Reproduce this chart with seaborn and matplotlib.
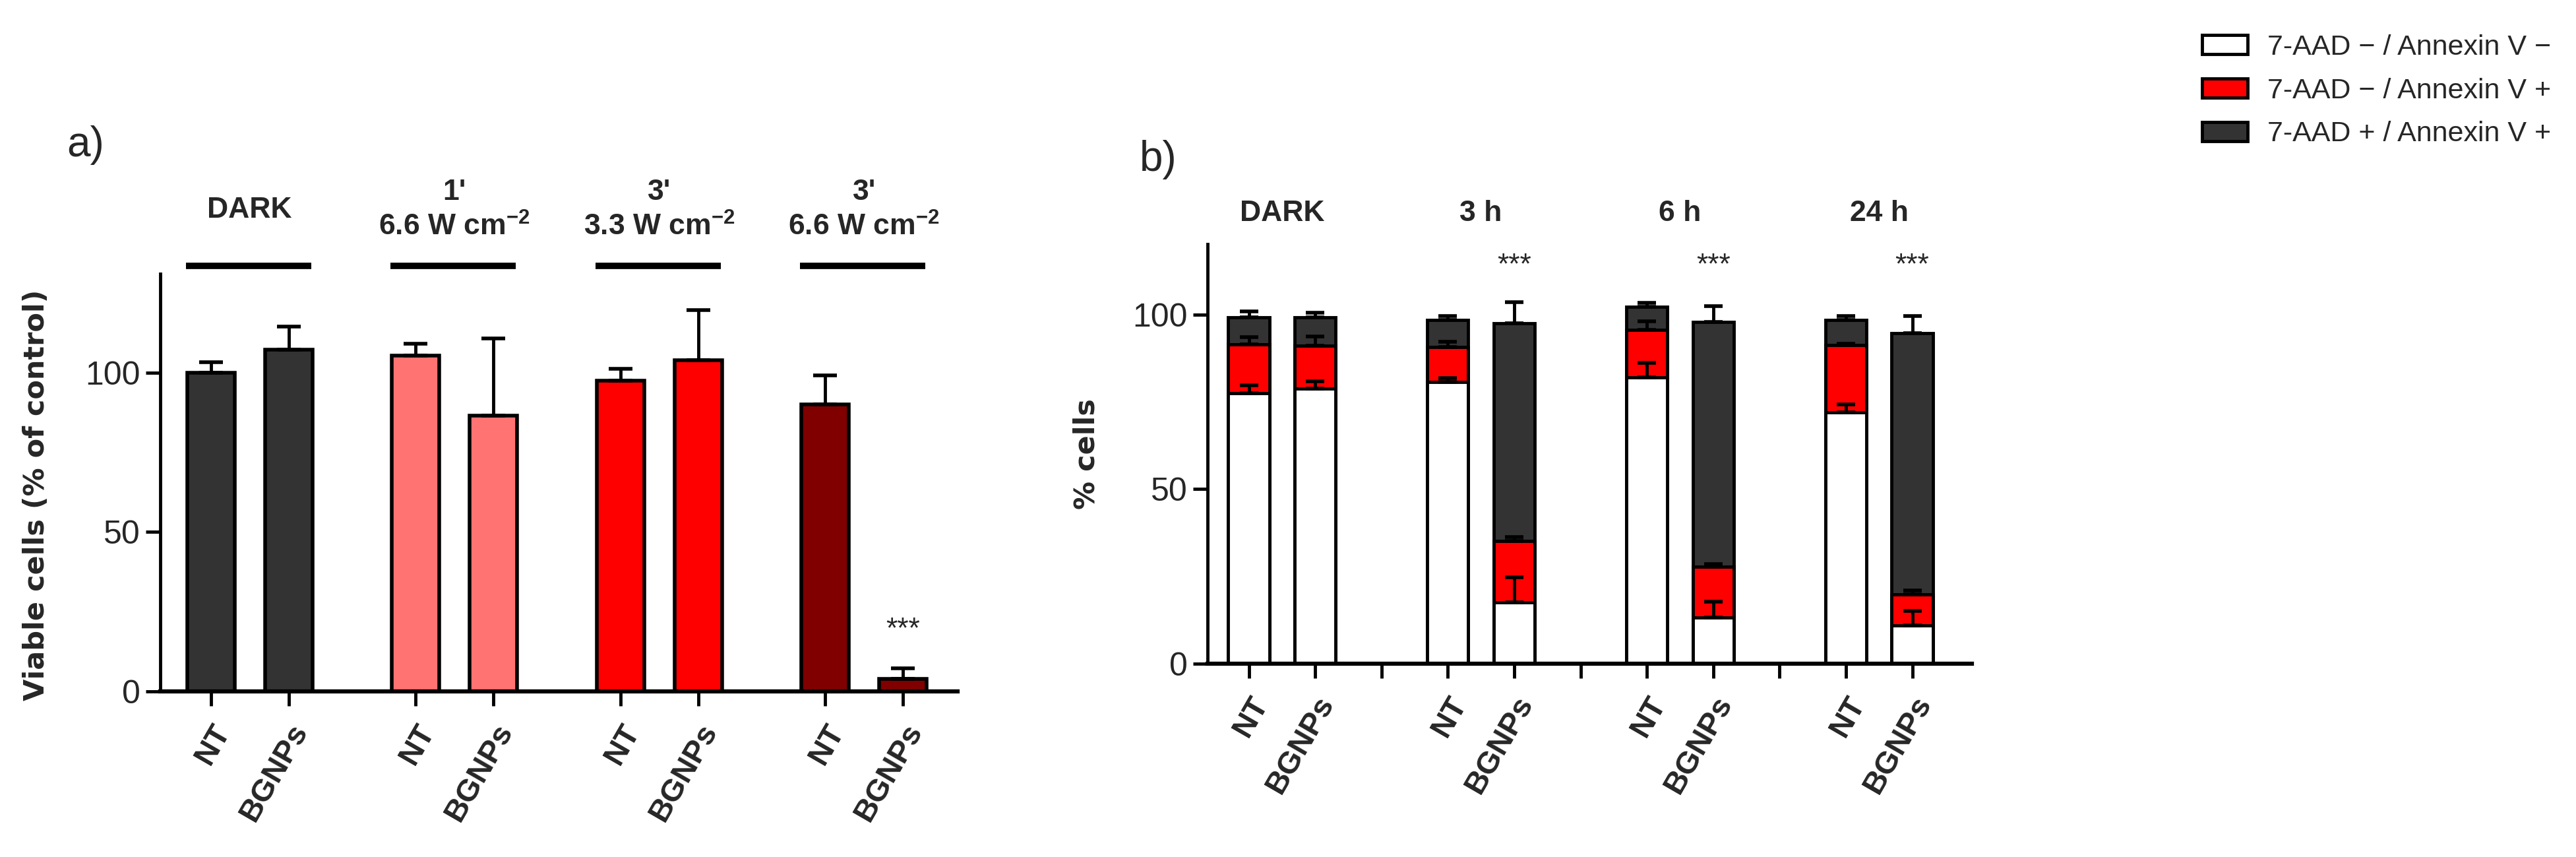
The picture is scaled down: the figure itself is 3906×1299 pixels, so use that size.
import numpy as np
import pandas as pd
import matplotlib
matplotlib.use("Agg")
import matplotlib.pyplot as plt
from matplotlib.patches import Patch
import seaborn as sns

# ---- panel a: viability (% of control) ----
a_groups = ["DARK", "1'\n6.6 W cm$^{-2}$", "3'\n3.3 W cm$^{-2}$", "3'\n6.6 W cm$^{-2}$"]
a_treat = ["NT", "BGNPs"]
a_mean = [100.0, 107.2, 105.3, 86.6, 97.4, 103.8, 90.1, 3.9]
a_sd = [3.2, 7.2, 3.8, 24.1, 3.8, 15.8, 9.1, 3.4]
a_colors = ["#333333", "#ff7373", "#ff0000", "#800000"]
a_sig = ["", "", "", "", "", "", "", "***"]

# ---- panel b: flow cytometry populations (% cells) ----
b_groups = ["DARK", "3 h", "6 h", "24 h"]
b_treat = ["NT", "BGNPs"]
b_live = [77.5, 78.8, 80.7, 17.5, 82.0, 13.2, 72.0, 10.9]
b_early = [13.9, 12.3, 10.1, 17.6, 13.6, 14.5, 19.2, 8.9]
b_late = [7.9, 8.2, 7.6, 62.4, 6.7, 70.1, 7.2, 74.8]
b_live_sd = [2.2, 2.0, 1.1, 7.3, 4.1, 4.5, 2.2, 4.2]
b_early_sd = [2.1, 2.6, 1.4, 1.2, 2.5, 0.9, 0.5, 1.2]
b_late_sd = [1.6, 1.2, 1.1, 6.1, 1.1, 4.7, 1.1, 4.9]
b_sig = ["", "", "", "***", "", "***", "", "***"]
b_labels = ["7-AAD \u2212 / Annexin V \u2212",
            "7-AAD \u2212 / Annexin V +",
            "7-AAD + / Annexin V +"]
b_colors = ["#ffffff", "#ff0000", "#333333"]

sns.set_style("white")
narrow = ["Liberation Sans Narrow", "Liberation Sans", "DejaVu Sans"]
wide = ["Liberation Sans", "DejaVu Sans"]
heavy = ["DejaVu Sans"]
plt.rcParams["font.family"] = narrow
plt.rcParams["mathtext.default"] = "regular"

fig = plt.figure(figsize=(39.06, 12.99), dpi=100)
ax1 = fig.add_axes([0.0622, 0.1932, 0.3095, 0.4873])
ax2 = fig.add_axes([0.4688, 0.2256, 0.2967, 0.4896])

# ---------- panel a ----------
a_step = 2.63
df_a = pd.DataFrame({
    "pos": [g * a_step + t for g in range(len(a_groups)) for t in range(len(a_treat))],
    "treat": a_treat * len(a_groups),
    "group": [g for g in a_groups for _ in a_treat],
    "mean": a_mean,
    "sd": a_sd,
})
sns.barplot(data=df_a, x="pos", y="mean", hue="group", hue_order=a_groups,
            palette=dict(zip(a_groups, a_colors)), native_scale=True, dodge=False,
            width=0.61, edgecolor="black", linewidth=4, errorbar=None,
            saturation=1, legend=False, ax=ax1)
ax1.errorbar(df_a["pos"], df_a["mean"], yerr=[np.zeros(len(df_a)), df_a["sd"]],
             fmt="none", ecolor="black", elinewidth=3.5, capsize=13, capthick=4)

for p, m, s, sig in zip(df_a["pos"], df_a["mean"], df_a["sd"], a_sig):
    if sig:
        ax1.text(p, m + s + 12, sig, ha="center", va="center", fontsize=32)

for g, lab in enumerate(a_groups):
    x0 = g * a_step
    ax1.plot([x0 - 0.32, x0 + 1.29], [133.5, 133.5], color="black", lw=7,
             solid_capstyle="butt", clip_on=False)
    ax1.text(x0 + 0.5, 151, lab, ha="center", va="center", fontsize=32,
             fontweight="bold", linespacing=1.3)

ax1.set_xlim(-0.65, 9.59)
ax1.set_ylim(0, 131)
ax1.set_yticks([0, 50, 100])
ax1.set_xticks(df_a["pos"])
ax1.set_xticklabels(df_a["treat"], rotation=60, ha="right", rotation_mode="anchor",
                    fontsize=34, fontweight="bold", family=wide)
ax1.set_xlabel("")
ax1.set_ylabel("Viable cells (% of control)", fontsize=31, fontweight="bold",
               family=heavy)
ax1.yaxis.set_label_coords(-0.138, 0.47)

# ---------- panel b ----------
b_step = 3
df_b = pd.DataFrame({
    "pos": [g * b_step + t for g in range(len(b_groups)) for t in range(len(b_treat))],
    "treat": b_treat * len(b_groups),
    "live": b_live,
    "early": b_early,
    "late": b_late,
})
df_b["early_top"] = df_b["live"] + df_b["early"]
df_b["total"] = df_b["early_top"] + df_b["late"]

for col, color in zip(["total", "early_top", "live"], b_colors[::-1]):
    sns.barplot(data=df_b, x="pos", y=col, native_scale=True, color=color,
                width=0.62, edgecolor="black", linewidth=3.5, errorbar=None,
                saturation=1, ax=ax2)
for col, sd in zip(["live", "early_top", "total"], [b_live_sd, b_early_sd, b_late_sd]):
    ax2.errorbar(df_b["pos"], df_b[col], yerr=[np.zeros(len(df_b)), sd],
                 fmt="none", ecolor="black", elinewidth=3.5, capsize=10, capthick=4,
                 zorder=5)

for p, sig in zip(df_b["pos"], b_sig):
    if sig:
        ax2.text(p, 114, sig, ha="center", va="center", fontsize=32)

for g, lab in enumerate(b_groups):
    ax2.text(g * b_step + 0.5, 129, lab, ha="center", va="center", fontsize=32,
             fontweight="bold", clip_on=False)

tick_pos = list(range(len(b_groups) * b_step - 1))
tick_lab = []
for g in range(len(b_groups)):
    tick_lab += b_treat + ([""] if g < len(b_groups) - 1 else [])
ax2.set_xticks(tick_pos)
ax2.set_xticklabels(tick_lab, rotation=60, ha="right", rotation_mode="anchor",
                    fontsize=34, fontweight="bold", family=wide)
ax2.set_xlim(-0.62, 10.9)
ax2.set_ylim(0, 120.2)
ax2.set_yticks([0, 50, 100])
ax2.set_xlabel("")
ax2.set_ylabel("% cells", fontsize=31, fontweight="bold", family=heavy)
ax2.yaxis.set_label_coords(-0.14, 0.5)

handles = [Patch(facecolor=c, edgecolor="black", linewidth=3.5) for c in b_colors]
fig.legend(handles, b_labels, loc="upper left", bbox_to_anchor=(0.845, 0.99),
           frameon=False, fontsize=31, handlelength=1.6, handleheight=0.65,
           labelspacing=0.6, handletextpad=0.7)

# ---------- common axis styling ----------
for ax in (ax1, ax2):
    for side in ("top", "right"):
        ax.spines[side].set_visible(False)
    ax.spines["left"].set_linewidth(3.5)
    ax.spines["bottom"].set_linewidth(4.5)
    ax.spines["left"].set_color("black")
    ax.spines["bottom"].set_color("black")
    ax.tick_params(axis="both", direction="out", length=16, width=3.5,
                   color="black", bottom=True, left=True)
    ax.tick_params(axis="y", labelsize=36, pad=6)
    ax.tick_params(axis="x", pad=14)

fig.text(0.0332, 0.8306, "a)", fontsize=46, ha="center", va="center", family=wide)
fig.text(0.4496, 0.8137, "b)", fontsize=46, ha="center", va="center", family=wide)

fig.savefig("out.png", dpi=100)
